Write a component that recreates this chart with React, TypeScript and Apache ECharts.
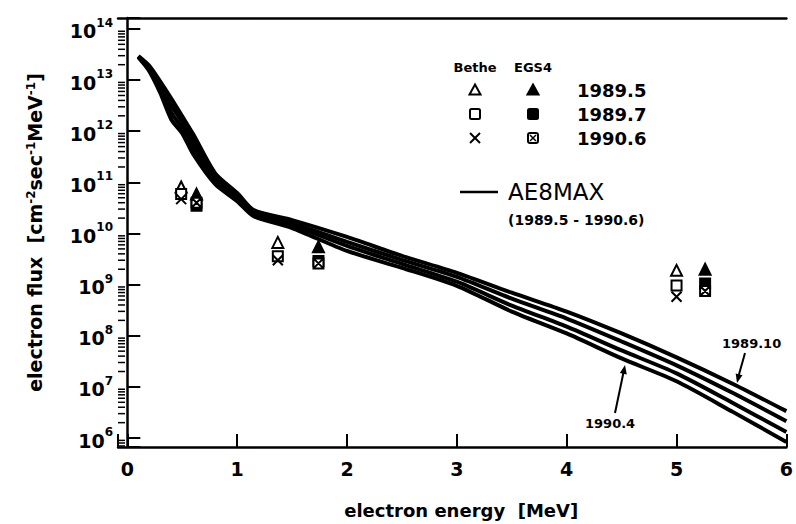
import React, { useEffect, useRef } from "react";
import * as echarts from "echarts";

// Electron energy [MeV] at which the AE8MAX curves are read
const energies = [0.1, 0.2, 0.3, 0.4, 0.5, 0.6, 0.8, 1.0, 1.15, 1.5, 2.0, 2.5, 3.0, 3.5, 4.0, 4.5, 5.0, 5.5, 6.0];

// AE8MAX spectra, electron flux [cm^-2 sec^-1 MeV^-1]
const ae8max198910 = [2.95e13, 1.9e13, 9.3e12, 4.35e12, 1.95e12, 8.7e11, 1.5e11, 6.2e10, 2.86e10, 1.83e10, 8.55e9, 3.65e9, 1.7e9, 6.95e8, 2.97e8, 1.11e8, 3.78e7, 1.18e7, 3.36e6];
const ae8maxMidA = [2.9e13, 1.75e13, 8.0e12, 3.2e12, 1.5e12, 6.5e11, 1.25e11, 5.5e10, 2.62e10, 1.6e10, 6.84e9, 3.05e9, 1.42e9, 5.31e8, 2.17e8, 7.73e7, 2.64e7, 7.85e6, 2.14e6];
const ae8maxMidB = [2.85e13, 1.6e13, 6.8e12, 2.3e12, 1.15e12, 4.8e11, 1.06e11, 4.9e10, 2.4e10, 1.46e10, 5.71e9, 2.55e9, 1.14e9, 3.88e8, 1.51e8, 5.16e7, 1.84e7, 5.02e6, 1.31e6];
const ae8max19904 = [2.8e13, 1.5e13, 5.6e12, 1.7e12, 9.1e11, 3.55e11, 9.2e10, 4.3e10, 2.19e10, 1.28e10, 4.56e9, 2.13e9, 9.5e8, 2.97e8, 1.11e8, 3.6e7, 1.29e7, 3.36e6, 8.4e5];

// Measured points [energy MeV, flux]
const bethe19895 = [[0.49, 8.1e10], [1.37, 6.7e9], [5.0, 1.9e9]];
const bethe19897 = [[0.49, 5.9e10], [1.37, 3.6e9], [5.0, 9.6e8]];
const bethe19906 = [[0.49, 4.7e10], [1.37, 3.0e9], [5.0, 5.8e8]];
const egs19895 = [[0.63, 5.9e10], [1.74, 5.5e9], [5.26, 2.0e9]];
const egs19897 = [[0.63, 3.5e10], [1.74, 2.9e9], [5.26, 1.05e9]];
const egs19906 = [[0.63, 4.0e10], [1.74, 2.6e9], [5.26, 7.5e8]];

// Axis ranges
const xMin = -0.085;
const xMax = 6;
const yMin = 6.68e5;
const yMax = 1.637e14;

const legendYears = ["1989.5", "1989.7", "1990.6"];

const FONT = '"DejaVu Sans", sans-serif';

function minorTickValues(): number[][] {
  const out: number[][] = [];
  for (let k = 5; k <= 14; k++) {
    for (let m = 2; m <= 9; m++) {
      const v = m * Math.pow(10, k);
      if (v > yMin && v < yMax) out.push([xMin, v]);
    }
  }
  return out;
}

export default function App() {
  const ref = useRef<HTMLDivElement>(null);

  useEffect(() => {
    document.body.style.margin = "0";
    if (!ref.current) return;
    const chart = echarts.init(ref.current, null, { renderer: "svg" });

    const curve = (name: string, vals: number[]) => ({
      name,
      type: "line",
      data: energies.map((e, i) => [e, vals[i]]),
      showSymbol: false,
      smooth: 0.25,
      lineStyle: { color: "#000", width: 4 },
      z: 2,
    });

    const scatter = (name: string, data: number[][], symbol: string, fill: string, size = 10) => ({
      name,
      type: "scatter",
      data,
      symbol,
      symbolSize: size,
      itemStyle: { color: fill, borderColor: "#000", borderWidth: 2, opacity: 1 },
      z: 5,
    });

    const rowY = [90, 114, 138];
    const colB = 475;
    const colE = 533;

    const graphic: any[] = [
      { type: "text", x: colB, y: 67, style: { text: "Bethe", font: `bold 13px ${FONT}`, fill: "#000", align: "center", verticalAlign: "middle" } },
      { type: "text", x: colE, y: 67, style: { text: "EGS4", font: `bold 13px ${FONT}`, fill: "#000", align: "center", verticalAlign: "middle" } },
      // row 1: triangles
      { type: "polygon", shape: { points: [[colB, rowY[0] - 5.5], [colB + 5.5, rowY[0] + 4.5], [colB - 5.5, rowY[0] + 4.5]] }, style: { fill: "#fff", stroke: "#000", lineWidth: 2 } },
      { type: "polygon", shape: { points: [[colE, rowY[0] - 5.5], [colE + 5.5, rowY[0] + 4.5], [colE - 5.5, rowY[0] + 4.5]] }, style: { fill: "#000", stroke: "#000", lineWidth: 2 } },
      // row 2: squares
      { type: "rect", shape: { x: colB - 5, y: rowY[1] - 5, width: 10, height: 10, r: 1.5 }, style: { fill: "#fff", stroke: "#000", lineWidth: 2 } },
      { type: "rect", shape: { x: colE - 5, y: rowY[1] - 5, width: 10, height: 10, r: 1.5 }, style: { fill: "#000", stroke: "#000", lineWidth: 2 } },
      // row 3: X and boxed X
      { type: "line", shape: { x1: colB - 5, y1: rowY[2] - 5, x2: colB + 5, y2: rowY[2] + 5 }, style: { stroke: "#000", lineWidth: 2 } },
      { type: "line", shape: { x1: colB + 5, y1: rowY[2] - 5, x2: colB - 5, y2: rowY[2] + 5 }, style: { stroke: "#000", lineWidth: 2 } },
      { type: "rect", shape: { x: colE - 5, y: rowY[2] - 5, width: 10, height: 10, r: 2 }, style: { fill: "#fff", stroke: "#000", lineWidth: 2 } },
      { type: "line", shape: { x1: colE - 3, y1: rowY[2] - 3, x2: colE + 3, y2: rowY[2] + 3 }, style: { stroke: "#000", lineWidth: 1.5 } },
      { type: "line", shape: { x1: colE + 3, y1: rowY[2] - 3, x2: colE - 3, y2: rowY[2] + 3 }, style: { stroke: "#000", lineWidth: 1.5 } },
      ...legendYears.map((t, i) => ({
        type: "text", x: 577, y: rowY[i],
        style: { text: t, font: `bold 18px ${FONT}`, fill: "#000", align: "left", verticalAlign: "middle" },
      })),
      { type: "line", shape: { x1: 460, y1: 192, x2: 498, y2: 192 }, style: { stroke: "#000", lineWidth: 2.5 } },
      { type: "text", x: 508, y: 192, style: { text: "AE8MAX", font: `23px ${FONT}`, fill: "#000", align: "left", verticalAlign: "middle" } },
      { type: "text", x: 508, y: 220, style: { text: "(1989.5 - 1990.6)", font: `bold 14px ${FONT}`, fill: "#000", align: "left", verticalAlign: "middle" } },
      // annotations
      { type: "text", x: 722, y: 343, style: { text: "1989.10", font: `bold 13px ${FONT}`, fill: "#000", align: "left", verticalAlign: "middle" } },
      { type: "line", shape: { x1: 745, y1: 353, x2: 738, y2: 378 }, style: { stroke: "#000", lineWidth: 2 } },
      { type: "polygon", shape: { points: [[737, 383], [742.5, 375.2], [735.7, 373.4]] }, style: { fill: "#000" } },
      { type: "text", x: 585, y: 423, style: { text: "1990.4", font: `bold 13px ${FONT}`, fill: "#000", align: "left", verticalAlign: "middle" } },
      { type: "line", shape: { x1: 615, y1: 413, x2: 624, y2: 370 }, style: { stroke: "#000", lineWidth: 2 } },
      { type: "polygon", shape: { points: [[625, 365], [626.8, 374.6], [619.9, 373.1]] }, style: { fill: "#000" } },
    ];

    const option: any = {
      animation: false,
      backgroundColor: "#fff",
      grid: { left: 118, right: 4.4, top: 18, bottom: 75, containLabel: false },
      xAxis: [
        {
          type: "value",
          min: xMin,
          max: xMax,
          splitNumber: 6,
          name: "electron energy  [MeV]",
          nameLocation: "middle",
          nameGap: 54,
          nameTextStyle: { fontFamily: FONT, fontSize: 18, fontWeight: "bold", color: "#000", padding: [0, 0, 0, 18] },
          axisLine: { show: true, lineStyle: { color: "#000", width: 2.5 } },
          axisTick: { show: true, inside: true, length: 13, lineStyle: { color: "#000", width: 2 } },
          axisLabel: {
            margin: 12,
            fontFamily: FONT,
            fontSize: 19,
            fontWeight: "bold",
            color: "#000",
            formatter: (v: number) => (Math.abs(v - Math.round(v)) < 1e-6 ? String(Math.round(v)) : ""),
          },
          splitLine: { show: false },
        },
        {
          type: "value",
          position: "top",
          min: xMin,
          max: xMax,
          axisLine: { show: true, onZero: false, lineStyle: { color: "#000", width: 2.5 } },
          axisTick: { show: false },
          axisLabel: { show: false },
          splitLine: { show: false },
        },
      ],
      yAxis: {
        type: "log",
        logBase: 10,
        min: yMin,
        max: yMax,
        name: "electron flux  [cm{s|-2}sec{s|-1}MeV{s|-1}]",
        nameLocation: "middle",
        nameGap: 74,
        nameTextStyle: {
          fontFamily: FONT,
          fontSize: 19,
          fontWeight: "bold",
          color: "#000",
          rich: {
            s: { fontFamily: FONT, fontSize: 12, fontWeight: "bold", color: "#000", verticalAlign: "top", lineHeight: 12 },
          },
        },
        axisLine: { show: true, lineStyle: { color: "#000", width: 2.5 } },
        axisTick: { show: true, inside: true, length: 13, lineStyle: { color: "#000", width: 2 } },
        axisLabel: {
          margin: 5,
          color: "#000",
          formatter: (v: number) => {
            const e = Math.log10(v);
            if (Math.abs(e - Math.round(e)) > 1e-6) return "";
            return `{b|10}{s|${Math.round(e)}}`;
          },
          rich: {
            b: { fontFamily: FONT, fontSize: 19, fontWeight: "bold", color: "#000", lineHeight: 24, verticalAlign: "bottom" },
            s: { fontFamily: FONT, fontSize: 12, fontWeight: "bold", color: "#000", lineHeight: 12, verticalAlign: "top" },
          },
        },
        splitLine: { show: false },
      },
      series: [
        {
          name: "minor ticks",
          type: "custom",
          data: minorTickValues(),
          renderItem: (params: any, api: any) => {
            const p = api.coord([api.value(0), api.value(1)]);
            return {
              type: "line",
              shape: { x1: p[0], y1: p[1], x2: p[0] + 7, y2: p[1] },
              style: { stroke: "#000", lineWidth: 1.5 },
            };
          },
          clip: false,
          silent: true,
          z: 1,
        },
        curve("AE8MAX 1989.10", ae8max198910),
        curve("AE8MAX A", ae8maxMidA),
        curve("AE8MAX B", ae8maxMidB),
        curve("AE8MAX 1990.4", ae8max19904),
        scatter("Bethe 1989.5", bethe19895, "emptyTriangle", "#000", 11),
        scatter("Bethe 1989.7", bethe19897, "emptyRect", "#000", 10),
        scatter("Bethe 1990.6", bethe19906, "path://M0 0L10 10M10 0L0 10", "transparent", 10),
        scatter("EGS4 1989.5", egs19895, "triangle", "#000", 11),
        scatter("EGS4 1989.7", egs19897, "rect", "#000", 10),
        scatter("EGS4 1990.6", egs19906, "path://M1 1H9V9H1Z M1 1L9 9M9 1L1 9", "#fff", 10),
      ],
      graphic,
    };

    chart.setOption(option);
    return () => chart.dispose();
  }, []);

  return <div ref={ref} style={{ width: 796, height: 524 }} />;
}
